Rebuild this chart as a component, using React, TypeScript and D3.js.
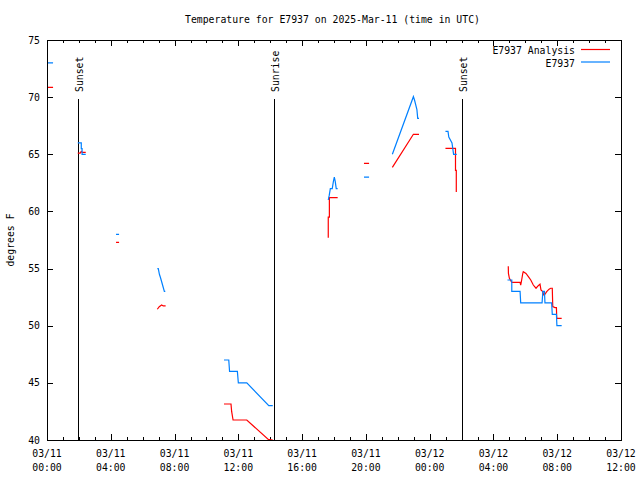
import React from "react";
import * as d3 from "d3";

type Pt = [number, number] | null;

const titleText = "Temperature for E7937 on 2025-Mar-11 (time in UTC)";
const yLabel = "degrees F";
const yTicks = [40, 45, 50, 55, 60, 65, 70, 75];
const xMajorHours = [0, 4, 8, 12, 16, 20, 24, 28, 32, 36];
const xDateLabels = ["03/11", "03/11", "03/11", "03/11", "03/11", "03/11", "03/12", "03/12", "03/12", "03/12"];
const xTimeLabels = ["00:00", "04:00", "08:00", "12:00", "16:00", "20:00", "00:00", "04:00", "08:00", "12:00"];
const sunEvents = [
  { label: "Sunset", hour: 1.93 },
  { label: "Sunrise", hour: 14.26 },
  { label: "Sunset", hour: 26.01 },
];
const seriesNames = ["E7937 Analysis", "E7937"];
const seriesColors = ["#ff0000", "#0080ff"];

const analysis: Pt[] = [
  [0.03, 70.85], [0.38, 70.85], null,
  [1.93, 65.1], [2.08, 65.1], [2.15, 65.25], [2.22, 65.17], [2.43, 65.17], null,
  [4.33, 57.3], [4.52, 57.3], null,
  [6.92, 51.44], [7.04, 51.67], [7.19, 51.81], [7.29, 51.73], [7.44, 51.73], null,
  [11.1, 43.15], [11.54, 43.15], [11.58, 42.5], [11.67, 41.75], [12.53, 41.75], [13.88, 40.05], [14.16, 40.0], null,
  [17.64, 57.7], [17.64, 59.5], [17.71, 59.5], [17.71, 61.2], [18.23, 61.2], null,
  [19.88, 64.2], [20.2, 64.2], null,
  [21.66, 63.86], [22.98, 66.75], [23.33, 66.75], null,
  [24.99, 65.52], [25.62, 65.52], [25.62, 63.6], [25.67, 63.6], [25.67, 61.7], null,
  [28.93, 55.2], [28.94, 54.58], [29.0, 54.15], [29.15, 53.8], [29.67, 53.8], [29.71, 53.56],
  [29.77, 54.0], [29.84, 54.58], [29.87, 54.73], [30.04, 54.58], [30.19, 54.3], [30.34, 54.0],
  [30.5, 53.56], [30.67, 53.28], [30.81, 53.5], [30.92, 53.63], [30.98, 53.13], [31.09, 52.98],
  [31.15, 52.7], [31.23, 52.75], [31.34, 52.98], [31.49, 53.2], [31.59, 53.28], [31.69, 53.28],
  [31.72, 51.67], [31.86, 51.58], [31.95, 51.58], [31.97, 50.65], [32.28, 50.65],
];

const observed: Pt[] = [
  [0.03, 73.0], [0.38, 73.0], null,
  [1.93, 66.0], [2.15, 66.0], [2.15, 65.5], [2.2, 65.5], [2.2, 65.0], [2.43, 65.0], null,
  [4.33, 58.0], [4.52, 58.0], null,
  [6.92, 55.0], [6.98, 55.0], [7.05, 54.5], [7.12, 54.2], [7.2, 53.8], [7.3, 53.3], [7.36, 53.0], [7.42, 53.0], null,
  [11.1, 47.0], [11.4, 47.0], [11.45, 46.0], [11.94, 46.0], [12.0, 45.0], [12.53, 45.0], [13.91, 43.0], [14.16, 43.0], null,
  [17.64, 61.0], [17.7, 61.4], [17.77, 62.0], [17.89, 62.0], [17.96, 62.6], [18.02, 63.0], [18.08, 62.6], [18.14, 62.0], [18.23, 62.0], null,
  [19.88, 63.0], [20.2, 63.0], null,
  [21.66, 65.0], [22.98, 70.04], [23.05, 69.75], [23.2, 68.9], [23.25, 68.15], [23.33, 68.15], null,
  [24.99, 67.0], [25.15, 67.0], [25.2, 66.5], [25.4, 66.0], [25.45, 65.5], [25.5, 65.0], [25.7, 65.0], null,
  [28.88, 54.0], [29.15, 54.0], [29.15, 53.0], [29.67, 53.0], [29.71, 52.0], [31.05, 52.0], [31.1, 53.0],
  [31.2, 53.0], [31.23, 52.0], [31.65, 52.0], [31.69, 51.0], [31.95, 51.0], [31.98, 50.0], [32.28, 50.0],
];

const W = 640, H = 480;
const L = 47, R = 621, T = 40, B = 440;
const FONT = "'DejaVu Sans Mono', monospace";
const FS = 9.8;

export default function App() {
  const x = d3.scaleLinear().domain([0, 36]).range([L, R]);
  const y = d3.scaleLinear().domain([40, 75]).range([B, T]);
  const line = d3
    .line<Pt>()
    .defined((d) => d !== null)
    .x((d) => x((d as [number, number])[0]))
    .y((d) => y((d as [number, number])[1]));
  const minorHours = d3.range(0, 37);
  const data = [analysis, observed];

  return (
    <div style={{ position: "fixed", left: 0, top: 0 }}>
      <svg width={W} height={H} style={{ display: "block", background: "#fff" }} fontFamily={FONT} fontSize={FS}>
        <rect x={0} y={0} width={W} height={H} fill="#fff" />
        <text x={332.5} y={23} textAnchor="middle">{titleText}</text>
        <text transform={`translate(14,240) rotate(-90)`} textAnchor="middle">{yLabel}</text>

        {yTicks.map((v) => (
          <g key={"y" + v}>
            <line x1={L} x2={L + 6} y1={Math.round(y(v)) + 0.5} y2={Math.round(y(v)) + 0.5} stroke="#000" />
            <line x1={R - 6} x2={R} y1={Math.round(y(v)) + 0.5} y2={Math.round(y(v)) + 0.5} stroke="#000" />
            <text x={40} y={y(v)} dy="0.36em" textAnchor="end">{v}</text>
          </g>
        ))}

        {minorHours.map((h) => {
          const major = h % 4 === 0;
          const len = major ? 6 : 3;
          const px = Math.round(x(h)) + 0.5;
          return (
            <g key={"x" + h}>
              <line x1={px} x2={px} y1={B} y2={B - len} stroke="#000" />
              <line x1={px} x2={px} y1={T} y2={T + len} stroke="#000" />
            </g>
          );
        })}
        {xMajorHours.map((h, i) => (
          <g key={"xl" + h}>
            <text x={x(h)} y={457} textAnchor="middle">{xDateLabels[i]}</text>
            <text x={x(h)} y={471} textAnchor="middle">{xTimeLabels[i]}</text>
          </g>
        ))}

        {sunEvents.map((s, i) => {
          const px = Math.round(x(s.hour)) + 0.5;
          return (
            <g key={"s" + i}>
              <line x1={px} x2={px} y1={99} y2={B} stroke="#000" strokeWidth={1} shapeRendering="crispEdges" />
              <text transform={`translate(${px + 4},92) rotate(-90)`} textAnchor="start">{s.label}</text>
            </g>
          );
        })}

        {data.map((d, i) => (
          <path key={"d" + i} d={line(d) || ""} fill="none" stroke={seriesColors[i]} strokeWidth={1.2} />
        ))}

        <rect x={L + 0.5} y={T + 0.5} width={R - L} height={B - T} fill="none" stroke="#000" shapeRendering="crispEdges" />

        {seriesNames.map((n, i) => (
          <g key={"lg" + i}>
            <text x={575} y={54 + i * 12.5} textAnchor="end">{n}</text>
            <line x1={581} x2={610} y1={49.5 + i * 12.5} y2={49.5 + i * 12.5} stroke={seriesColors[i]} strokeWidth={1.2} />
          </g>
        ))}
      </svg>
    </div>
  );
}
